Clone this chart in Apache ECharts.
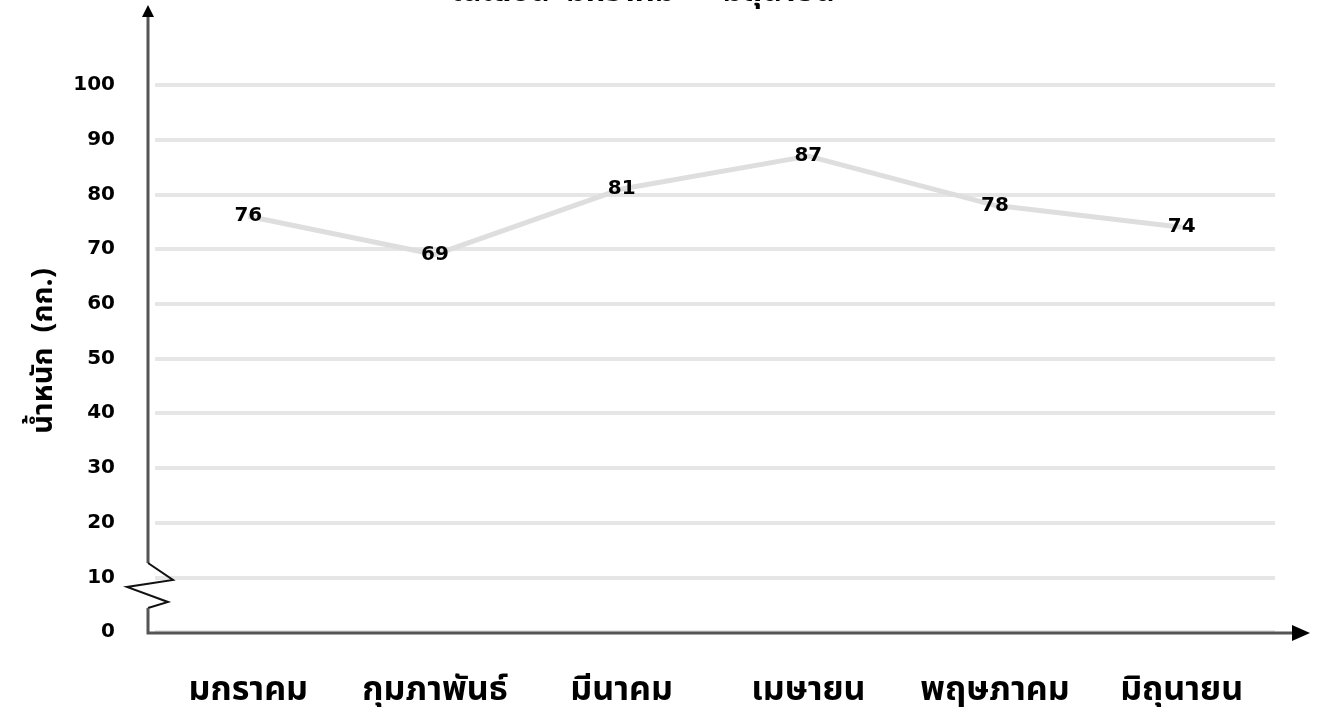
<!DOCTYPE html>
<html>
<head>
<meta charset="utf-8">
<script src="https://cdn.jsdelivr.net/npm/echarts@6/dist/echarts.min.js"></script>
<style>html,body{margin:0;padding:0;background:#fff}#c{width:1322px;height:707px}</style>
</head>
<body>
<div id="c"></div>
<script>
var categories = ['มกราคม', 'กุมภาพันธ์', 'มีนาคม', 'เมษายน', 'พฤษภาคม', 'มิถุนายน'];
var weights = [76, 69, 81, 87, 78, 74];
var yTicks = [0, 10, 20, 30, 40, 50, 60, 70, 80, 90, 100];
var yName = 'น้ำหนัก  (กก.)';
var titleText = 'ในเดือน  มกราคม  –  มิถุนายน';

var thaiFont = "Tahoma, 'Noto Sans Thai', 'Noto Sans', 'DejaVu Sans', sans-serif";
var numFont = "'DejaVu Sans', Verdana, sans-serif";

var chart = echarts.init(document.getElementById('c'), null, {renderer: 'canvas'});
chart.setOption({
  backgroundColor: '#ffffff',
  animation: false,
  grid: {left: 155, right: 47, top: 85, bottom: 75, containLabel: false, outerBoundsMode: 'none'},
  xAxis: {
    type: 'category',
    data: categories,
    boundaryGap: true,
    axisLine: {show: false},
    axisTick: {show: false},
    axisLabel: {margin: 44, color: '#000', fontSize: 34, fontWeight: 'bold', fontFamily: thaiFont, interval: 0}
  },
  yAxis: {
    type: 'value',
    min: yTicks[0],
    max: yTicks[yTicks.length - 1],
    interval: yTicks[1] - yTicks[0],
    axisLine: {show: false},
    axisTick: {show: false},
    axisLabel: {margin: 40, color: '#000', fontSize: 20, fontWeight: 'bold', fontFamily: numFont, padding: [0, 0, 9, 0]},
    splitLine: {show: true, lineStyle: {color: '#e6e6e6', width: 4}}
  },
  series: [{
    type: 'line',
    data: weights,
    symbol: 'circle',
    symbolSize: 0.1,
    itemStyle: {color: '#dcdcdc'},
    lineStyle: {color: '#dedede', width: 5},
    label: {show: true, position: 'inside', color: '#000', fontSize: 20, fontWeight: 'bold', fontFamily: numFont}
  }],
  graphic: [
    {type: 'text', x: 643, y: -5, style: {text: titleText, fill: '#000', font: "bold 31px " + thaiFont, textAlign: 'center', textVerticalAlign: 'middle'}, z: 10},
    {type: 'text', x: 46, y: 351, rotation: Math.PI / 2, style: {text: yName, fill: '#000', font: "bold 29px " + thaiFont, textAlign: 'center', textVerticalAlign: 'middle'}, z: 10},
    {type: 'polyline', shape: {points: [[148, 16], [148, 563]]}, style: {stroke: '#555', lineWidth: 3, fill: null}, z: 10},
    {type: 'polyline', shape: {points: [[148, 563], [173, 580], [127, 587], [168, 602], [148, 608]]}, style: {stroke: '#111', lineWidth: 2, fill: null}, z: 10},
    {type: 'polyline', shape: {points: [[148, 608], [148, 633], [1298, 633]]}, style: {stroke: '#555', lineWidth: 3, fill: null}, z: 10},
    {type: 'polygon', shape: {points: [[148, 5], [142, 17], [154, 17]]}, style: {fill: '#000'}, z: 11},
    {type: 'polygon', shape: {points: [[1292, 625], [1292, 641], [1310, 633]]}, style: {fill: '#000'}, z: 11}
  ]
});
</script>
</body>
</html>
